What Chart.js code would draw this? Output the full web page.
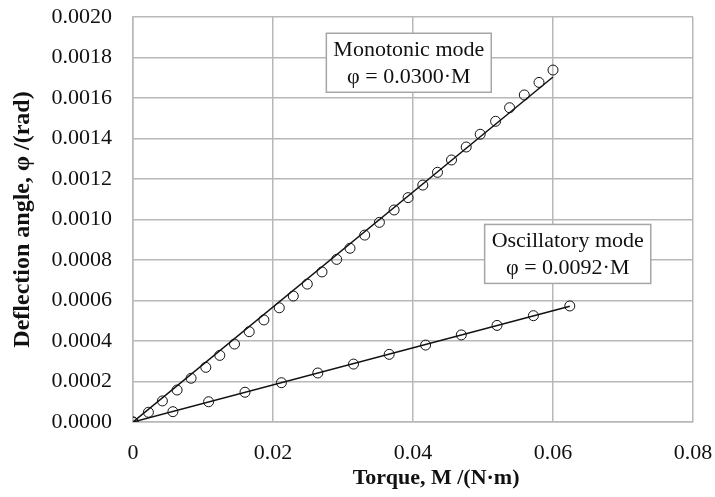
<!DOCTYPE html>
<html>
<head>
<meta charset="utf-8">
<script src="https://cdn.jsdelivr.net/npm/chart.js@4.4.1/dist/chart.umd.min.js"></script>
<style>
  body { margin: 0; background: #fff; }
  #wrap { width: 715px; height: 497px; }
</style>
</head>
<body>
<div id="wrap"><canvas id="chart" width="715" height="497"></canvas></div>
<script>
// monotonic loading
const monoTorque = [0, 0.0022, 0.0042, 0.0063, 0.0083, 0.0104, 0.0124, 0.0145, 0.0166, 0.0187,
    0.0209, 0.0229, 0.0249, 0.0270, 0.0291, 0.0310, 0.0331, 0.0352, 0.0373, 0.0393,
    0.0414, 0.0435, 0.0455, 0.0476, 0.0496, 0.0518, 0.0538, 0.0559, 0.0580, 0.0600];
const monoAngle = [0, 0.000048, 0.000104, 0.000158, 0.000216, 0.000270, 0.000329, 0.000385, 0.000446, 0.000504,
    0.000564, 0.000622, 0.000681, 0.000741, 0.000803, 0.000858, 0.000923, 0.000986, 0.001047, 0.001108,
    0.001170, 0.001233, 0.001294, 0.001358, 0.001421, 0.001485, 0.001552, 0.001615, 0.001677, 0.001738];

// oscillatory loading
const oscTorque = [0, 0.0057, 0.0108, 0.0160, 0.0212, 0.0264, 0.0315, 0.0366, 0.0418, 0.0469, 0.0520, 0.0572, 0.0624];
const oscAngle = [0, 0.000051, 0.000100, 0.000147, 0.000194, 0.000242, 0.000286, 0.000334, 0.000380, 0.000430, 0.000477, 0.000525, 0.000573];

const xTicks = [0, 0.02, 0.04, 0.06, 0.08];
const yTicks = [0, 0.0002, 0.0004, 0.0006, 0.0008, 0.0010, 0.0012, 0.0014, 0.0016, 0.0018, 0.0020];

const labels = [
    { lines: ['Monotonic mode', 'φ = 0.0300·M'], at: [0.0394, 0.001774] },
    { lines: ['Oscillatory mode', 'φ = 0.0092·M'], at: [0.0621, 0.00083] },
];
const xTitle = 'Torque, M /(N·m)';
const yTitle = 'Deflection angle, φ /(rad)';

const serif = '"Liberation Serif", "Times New Roman", serif';
const ink = '#111';
const gridGray = '#b8b8b8';

function points(xs, ys) {
    return xs.map((x, i) => ({ x: x, y: ys[i] }));
}

// linear trend through the origin, like the spreadsheet trendline
function trend(xs, ys) {
    let sxy = 0, sxx = 0;
    xs.forEach((x, i) => { sxy += x * ys[i]; sxx += x * x; });
    const k = sxy / sxx;
    const xMax = Math.max(...xs);
    return [{ x: 0, y: 0 }, { x: xMax, y: k * xMax }];
}

const markers = {
    type: 'scatter',
    pointStyle: 'circle',
    pointRadius: 5,
    pointHoverRadius: 5,
    borderColor: ink,
    backgroundColor: 'rgba(0,0,0,0)',
    pointBorderWidth: 1,
    showLine: false,
};
const fitLine = {
    type: 'line',
    borderColor: ink,
    borderWidth: 1.5,
    pointRadius: 0,
    fill: false,
    tension: 0,
};

const boxLabels = {
    id: 'boxLabels',
    beforeDatasetsDraw(chart) {
        const ctx = chart.ctx;
        const xs = chart.scales.x, ys = chart.scales.y;
        ctx.save();
        ctx.font = '22px ' + serif;
        ctx.textAlign = 'center';
        ctx.textBaseline = 'middle';
        labels.forEach(l => {
            const cx = xs.getPixelForValue(l.at[0]);
            const cy = ys.getPixelForValue(l.at[1]);
            const w = Math.max(...l.lines.map(t => ctx.measureText(t).width)) + 14;
            const h = 59;
            ctx.fillStyle = '#fff';
            ctx.fillRect(cx - w / 2, cy - h / 2, w, h);
            ctx.strokeStyle = '#a6a6a6';
            ctx.lineWidth = 1.5;
            ctx.strokeRect(cx - w / 2, cy - h / 2, w, h);
            ctx.fillStyle = ink;
            ctx.fillText(l.lines[0], cx, cy - 13);
            ctx.fillText(l.lines[1], cx, cy + 14);
        });
        ctx.restore();
    },
    // x title sits a little right of the plot centre in the original
    afterDraw(chart) {
        const ctx = chart.ctx;
        const xs = chart.scales.x;
        ctx.save();
        ctx.font = 'bold 22px ' + serif;
        ctx.fillStyle = ink;
        ctx.textAlign = 'center';
        ctx.textBaseline = 'middle';
        ctx.fillText(xTitle, xs.getPixelForValue(0.0433), 478);
        ctx.restore();
    }
};

const chart = new Chart(document.getElementById('chart').getContext('2d'), {
    data: {
        datasets: [
            Object.assign({ label: 'Monotonic mode', data: points(monoTorque, monoAngle) }, markers),
            Object.assign({ label: 'Monotonic fit', data: trend(monoTorque, monoAngle) }, fitLine),
            Object.assign({ label: 'Oscillatory mode', data: points(oscTorque, oscAngle) }, markers),
            Object.assign({ label: 'Oscillatory fit', data: trend(oscTorque, oscAngle) }, fitLine),
        ]
    },
    options: {
        responsive: false,
        animation: false,
        devicePixelRatio: 1,
        layout: { padding: { left: 0, top: 17, right: 22, bottom: 0 } },
        plugins: {
            legend: { display: false },
            tooltip: { enabled: false },
        },
        scales: {
            x: {
                type: 'linear',
                min: 0,
                max: 0.08,
                afterBuildTicks: s => { s.ticks = xTicks.map(v => ({ value: v })); },
                afterFit: s => { s.height = 75; s.paddingLeft = 0; s.paddingRight = 0; },
                grid: { color: gridGray, lineWidth: 1.5, drawTicks: false },
                border: { color: gridGray, width: 1.5 },
                ticks: {
                    color: ink,
                    padding: 18,
                    font: { family: serif, size: 22 },
                    callback: v => (v === 0 ? '0' : v.toFixed(2)),
                },
            },
            y: {
                type: 'linear',
                min: 0,
                max: 0.002,
                afterBuildTicks: s => { s.ticks = yTicks.map(v => ({ value: v })); },
                afterFit: s => { s.width = 133; s.paddingTop = 0; s.paddingBottom = 0; },
                grid: { color: gridGray, lineWidth: 1.5, drawTicks: false },
                border: { color: gridGray, width: 1.5 },
                ticks: {
                    color: ink,
                    padding: 21,
                    font: { family: serif, size: 22 },
                    callback: v => v.toFixed(4),
                },
                title: {
                    display: true,
                    text: yTitle,
                    color: ink,
                    font: { family: serif, size: 24, weight: 'bold' },
                    padding: { top: 8, bottom: 0 },
                },
            },
        },
    },
    plugins: [boxLabels],
});
</script>
</body>
</html>
